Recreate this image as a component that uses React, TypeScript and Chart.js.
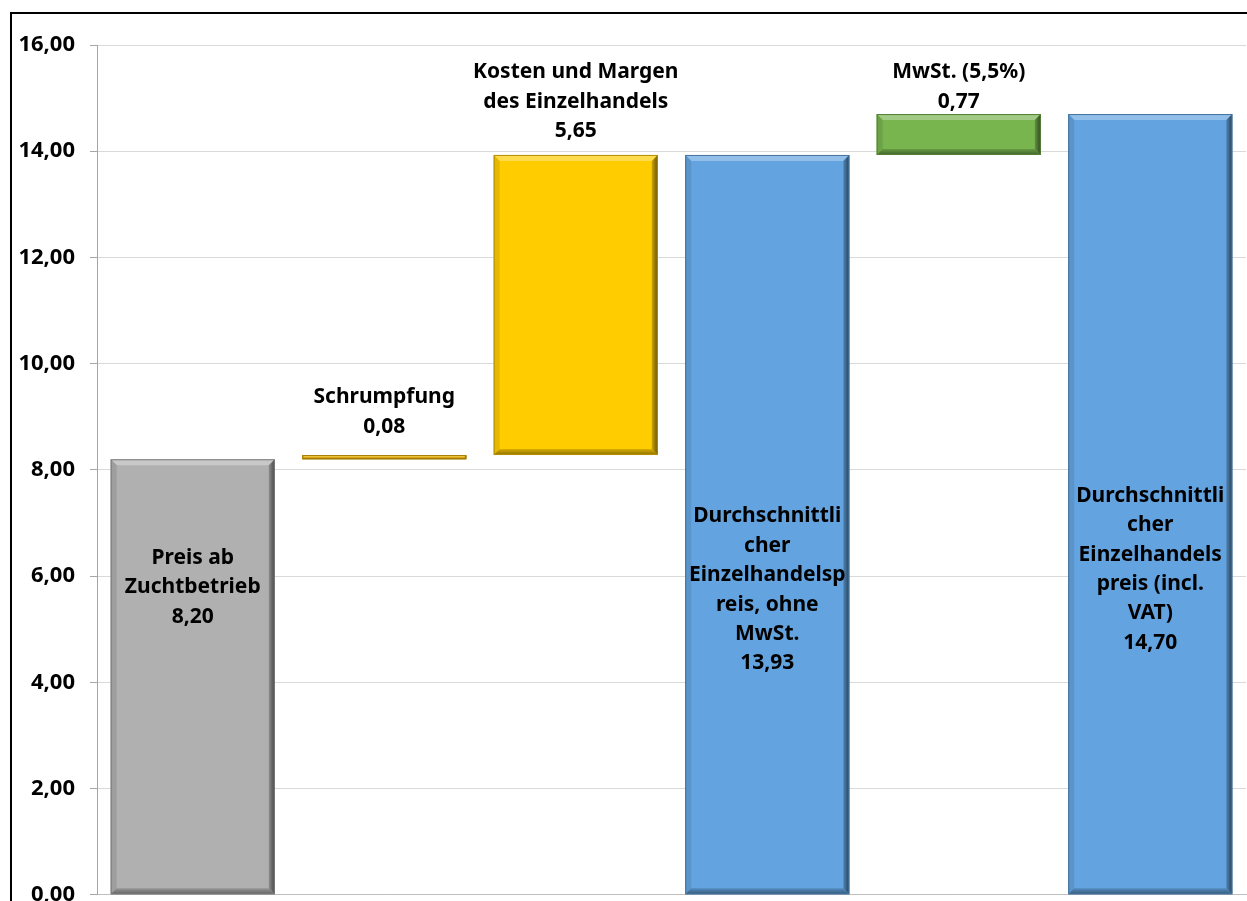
import React, { useEffect, useRef } from "react";
import { Chart, registerables } from "chart.js";

Chart.register(...registerables);

const categories = [
  "Preis ab Zuchtbetrieb",
  "Schrumpfung",
  "Kosten und Margen des Einzelhandels",
  "Durchschnittlicher Einzelhandelspreis, ohne MwSt.",
  "MwSt. (5,5%)",
  "Durchschnittlicher Einzelhandelspreis (incl. VAT)",
];
const barStart = [0, 8.2, 8.28, 0, 13.93, 0];
const barEnd = [8.2, 8.28, 13.93, 13.93, 14.7, 14.7];
const valueLabels = ["8,20", "0,08", "5,65", "13,93", "0,77", "14,70"];
const labelLines = [
  ["Preis ab", "Zuchtbetrieb"],
  ["Schrumpfung"],
  ["Kosten und Margen", "des Einzelhandels"],
  ["Durchschnittli", "cher", "Einzelhandelsp", "reis, ohne", "MwSt."],
  ["MwSt. (5,5%)"],
  ["Durchschnittli", "cher", "Einzelhandels", "preis (incl.", "VAT)"],
];
// vertical centre of each label block, in axis units
const labelAnchor = [5.79, 9.09, 14.93, 5.74, 15.21, 6.13];
const barColors = ["#b0b0b0", "#ebb50f", "#ffcc00", "#63a4e0", "#79b54f", "#63a4e0"];
const yTicks = [0, 2, 4, 6, 8, 10, 12, 14, 16];

const FONT = "'Noto Sans', 'DejaVu Sans', sans-serif";

function shade(hex: string, amt: number): string {
  const n = parseInt(hex.slice(1), 16);
  let r = (n >> 16) & 255, g = (n >> 8) & 255, b = n & 255;
  if (amt >= 0) {
    r = Math.round(r + (255 - r) * amt);
    g = Math.round(g + (255 - g) * amt);
    b = Math.round(b + (255 - b) * amt);
  } else {
    r = Math.round(r * (1 + amt));
    g = Math.round(g * (1 + amt));
    b = Math.round(b * (1 + amt));
  }
  return `rgb(${r},${g},${b})`;
}

const bevelPlugin = {
  id: "bevel",
  afterDatasetsDraw(chart: any) {
    const ctx = chart.ctx;
    const meta = chart.getDatasetMeta(0);
    meta.data.forEach((el: any, i: number) => {
      const p = el.getProps(["x", "y", "base", "width"], true);
      const l = p.x - p.width / 2, r = p.x + p.width / 2;
      const t = Math.min(p.y, p.base), b = Math.max(p.y, p.base);
      const h = b - t;
      const d = Math.min(6, h / 2.5);
      const c = barColors[i];
      ctx.save();
      const poly = (pts: number[][], col: any) => {
        ctx.beginPath();
        ctx.moveTo(pts[0][0], pts[0][1]);
        for (let k = 1; k < pts.length; k++) ctx.lineTo(pts[k][0], pts[k][1]);
        ctx.closePath();
        ctx.fillStyle = col;
        ctx.fill();
      };
      poly([[l, t], [r, t], [r - d, t + d], [l + d, t + d]], shade(c, 0.3));
      poly([[l, t], [l + d, t + d], [l + d, b - d], [l, b]], shade(c, -0.1));
      const gr = ctx.createLinearGradient(r - d, 0, r, 0);
      gr.addColorStop(0, shade(c, -0.2));
      gr.addColorStop(1, shade(c, -0.6));
      poly([[r, t], [r, b], [r - d, b - d], [r - d, t + d]], gr);
      const gb = ctx.createLinearGradient(0, b - d, 0, b);
      gb.addColorStop(0, shade(c, -0.15));
      gb.addColorStop(1, shade(c, -0.45));
      poly([[l, b], [r, b], [r - d, b - d], [l + d, b - d]], gb);
      ctx.strokeStyle = shade(c, -0.3);
      ctx.lineWidth = 1;
      ctx.strokeRect(l + 0.5, t + 0.5, p.width - 1, h - 1);
      ctx.restore();
    });
  },
};

const labelPlugin = {
  id: "barLabels",
  afterDraw(chart: any) {
    const ctx = chart.ctx;
    const meta = chart.getDatasetMeta(0);
    const yScale = chart.scales.y;
    ctx.save();
    ctx.font = `bold 21px ${FONT}`;
    ctx.fillStyle = "#000";
    ctx.textAlign = "center";
    ctx.textBaseline = "middle";
    const lh = 29.4;
    meta.data.forEach((el: any, i: number) => {
      const lines = [...labelLines[i], valueLabels[i]];
      const cy = yScale.getPixelForValue(labelAnchor[i]);
      const y0 = cy - ((lines.length - 1) * lh) / 2;
      lines.forEach((s, k) => ctx.fillText(s, el.x, y0 + k * lh));
    });
    ctx.restore();
  },
};

const framePlugin = {
  id: "frame",
  beforeDraw(chart: any) {
    const ctx = chart.ctx;
    ctx.save();
    ctx.fillStyle = "#fff";
    ctx.fillRect(0, 0, chart.width, chart.height);
    ctx.restore();
  },
  afterDraw(chart: any) {
    const ctx = chart.ctx;
    ctx.save();
    ctx.strokeStyle = "#000";
    ctx.lineWidth = 2;
    ctx.beginPath();
    ctx.moveTo(11, chart.height + 5);
    ctx.lineTo(11, 13);
    ctx.lineTo(chart.width + 5, 13);
    ctx.stroke();
    ctx.restore();
  },
};

export default function App() {
  const ref = useRef<HTMLCanvasElement>(null);
  useEffect(() => {
    if (!ref.current) return;
    const chart = new Chart(ref.current, {
      type: "bar",
      data: {
        labels: categories,
        datasets: [
          {
            data: barStart.map((s, i) => [s, barEnd[i]]) as any,
            backgroundColor: barColors,
            borderWidth: 0,
            barPercentage: 0.857,
            categoryPercentage: 1,
          },
        ],
      },
      options: {
        responsive: false,
        animation: false,
        maintainAspectRatio: false,
        layout: { padding: { top: 45, bottom: 8, right: 1, left: 0 } },
        plugins: { legend: { display: false }, tooltip: { enabled: false } },
        scales: {
          x: {
            ticks: { display: false },
            grid: { display: false },
            border: { display: true, color: "#bfbfbf", width: 1 },
            afterFit(scale: any) {
              scale.height = 0;
            },
          },
          y: {
            min: 0,
            max: 16,
            afterBuildTicks(scale: any) {
              scale.ticks = yTicks.map((v) => ({ value: v }));
            },
            ticks: {
              color: "#000",
              font: { family: FONT, size: 22, weight: "bold" },
              padding: 15,
              callback: (v: any) => Number(v).toFixed(2).replace(".", ","),
            },
            grid: { color: "#d9d9d9", tickColor: "#a6a6a6", tickLength: 7, lineWidth: 1 },
            border: { display: true, color: "#a6a6a6", width: 1 },
            afterFit(scale: any) {
              scale.width = 97;
            },
          },
        },
      },
      plugins: [framePlugin, bevelPlugin, labelPlugin],
    });
    return () => chart.destroy();
  }, []);
  return (
    <div style={{ position: "fixed", left: 0, top: 0, width: 1247, height: 901, overflow: "hidden", background: "#fff" }}>
      <canvas ref={ref} width={1247} height={923} style={{ display: "block" }} />
    </div>
  );
}
